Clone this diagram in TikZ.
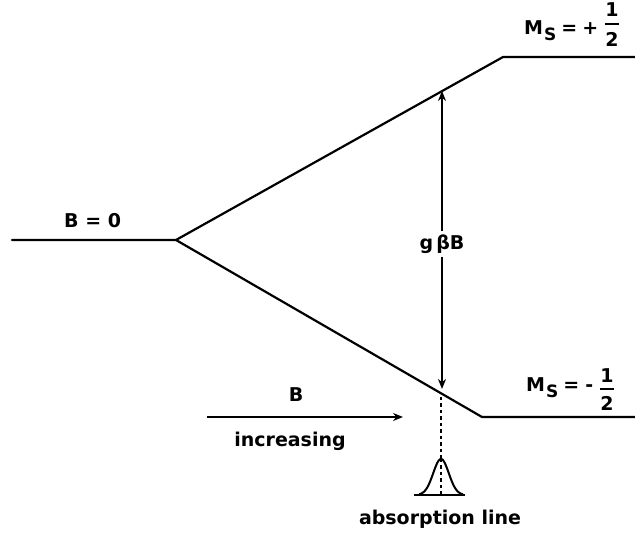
\documentclass[tikz,border=0pt]{standalone}
\usepackage{fontspec}
\setmainfont{DejaVu Sans}
\usetikzlibrary{arrows.meta}
\begin{document}
\begin{tikzpicture}[x=1pt,y=-1pt,
  lvl/.style={line width=2.2pt,line cap=round},
  lbl/.style={inner sep=0pt,font=\fontsize{19}{21}\selectfont\bfseries},
  tip/.style={-{Stealth[length=10pt,width=8pt]}},
  dots/.style={line width=2pt,dash pattern=on 3.5pt off 3pt}]
\useasboundingbox (0,0) rectangle (635,534);
% levels
\coordinate (L0) at (12,240);
\coordinate (V) at (176,240);
\coordinate (U1) at (503,57);
\coordinate (U2) at (635,57);
\coordinate (D1) at (482,417);
\coordinate (D2) at (635,417);
\draw[lvl] (L0) -- (V) -- (U1) -- (U2);
\draw[lvl] (V) -- (D1) -- (D2);
% labels
\node[lbl,anchor=base west] (b0) at (64,228) {B = 0};
\node[lbl,anchor=base west] (mu) at (524,35) {M\hspace{1pt}\raisebox{-0.55ex}{\fontsize{17}{18}\selectfont S}\hspace{5pt}=\hspace{5pt}+};
\node[lbl] (u1) at (612,10) {1};
\node[lbl] (u2) at (612,39) {2};
\draw[line width=2pt] (605,24) -- (619,24);
\node[lbl,anchor=base west] (md) at (526,392) {M\hspace{1pt}\raisebox{-0.55ex}{\fontsize{17}{18}\selectfont S}\hspace{5pt}=\hspace{6pt}-};
\node[lbl] (d1) at (607,376) {1};
\node[lbl] (d2) at (607,403) {2};
\draw[line width=2pt] (600,389) -- (614,389);
% splitting arrow
\coordinate (AT) at (442,91);
\coordinate (AB) at (442,389);
\node[lbl,fill=white,inner sep=3pt] (gb) at (442,244) {g\,βB};
\draw[line width=2pt,tip] (gb.north) -- (AT);
\draw[line width=2pt,tip] (gb.south) -- (AB);
% B increasing
\coordinate (I1) at (207,417);
\coordinate (I2) at (403,417);
\draw[line width=2pt,tip] (I1) -- (I2);
\node[lbl,anchor=base] (bl) at (296,402) {B};
\node[lbl,anchor=base] (inc) at (290,447) {increasing};
% absorption line
\coordinate (P) at (441,459);
\coordinate (Q) at (441,397);
\draw[dots] (Q) -- (P);
\draw[line width=2pt] plot[domain=419:463,samples=80,smooth] (\x,{495-36*exp(-((\x-441)/11)^2)});
\draw[line width=2pt] (414,495) -- (465,495);
\draw[dots] (P) -- (441,495);
\node[lbl,anchor=base] (abs) at (440,525) {absorption line};
\end{tikzpicture}
\end{document}
